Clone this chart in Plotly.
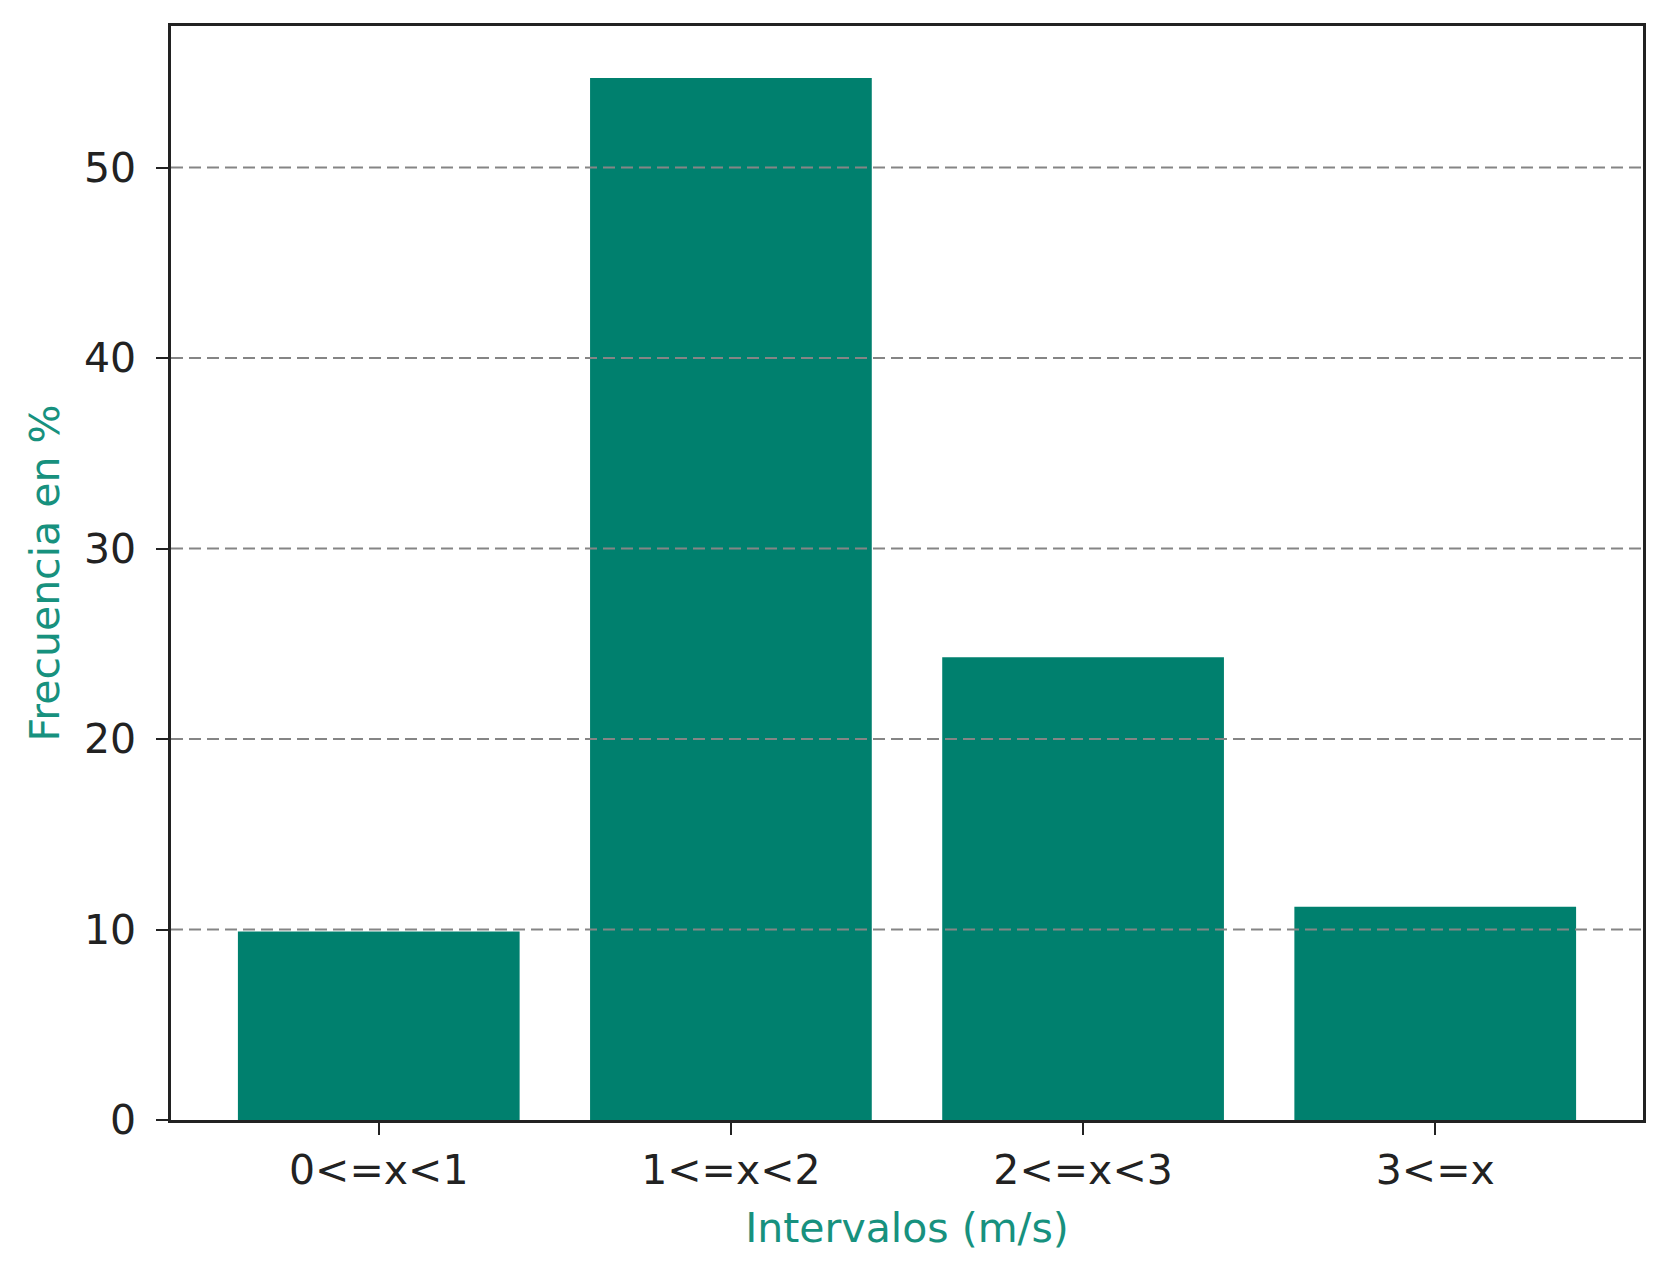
import plotly.graph_objects as go

categories = ["0<=x<1", "1<=x<2", "2<=x<3", "3<=x"]
frecuencia = [9.9, 54.7, 24.3, 11.2]
y_ticks = [0, 10, 20, 30, 40, 50]

bar_color = "#00806E"
title_color = "#17917E"
grid_color = "#858585"
font_family = "DejaVu Sans"

fig = go.Figure()
fig.add_trace(go.Bar(
    x=list(range(len(categories))),
    y=frecuencia,
    width=0.8,
    marker=dict(color=bar_color, line=dict(width=0)),
))

# dashed grid lines drawn above the bars (as in the reference)
for t in y_ticks[1:]:
    fig.add_shape(type="line", xref="paper", yref="y", x0=0, x1=1, y0=t, y1=t,
                  line=dict(color=grid_color, width=2, dash="12px,6px"), layer="above")

ymax = max(frecuencia) * 1.05
fig.update_layout(
    width=1672, height=1278,
    margin=dict(l=163, r=37, t=18, b=166),
    paper_bgcolor="white", plot_bgcolor="white",
    font=dict(family=font_family, size=41, color="#222"),
    showlegend=False,
    bargap=0.2,
    xaxis=dict(
        range=[-0.59, 3.59],
        tickmode="array", tickvals=list(range(len(categories))), ticktext=categories,
        ticks="outside", ticklen=12, tickwidth=2, tickcolor="#222",
        showline=True, linecolor="#222", linewidth=2.5, mirror=True,
        showgrid=False, zeroline=False, layer="above traces",
        tickfont=dict(family=font_family, size=41, color="#222"),
        title=dict(text="Intervalos (m/s)", font=dict(family=font_family, size=41, color=title_color), standoff=21),
    ),
    yaxis=dict(
        range=[0, ymax],
        tickmode="array", tickvals=y_ticks,
        ticks="outside", ticklen=12, tickwidth=2, tickcolor="#222",
        ticklabelstandoff=12,
        showline=True, linecolor="#222", linewidth=2.5, mirror=True,
        showgrid=False, zeroline=False, layer="above traces",
        tickfont=dict(family=font_family, size=41, color="#222"),
        title=dict(text="Frecuencia en %", font=dict(family=font_family, size=41, color=title_color), standoff=12),
    ),
)

fig.write_html("out.html")
